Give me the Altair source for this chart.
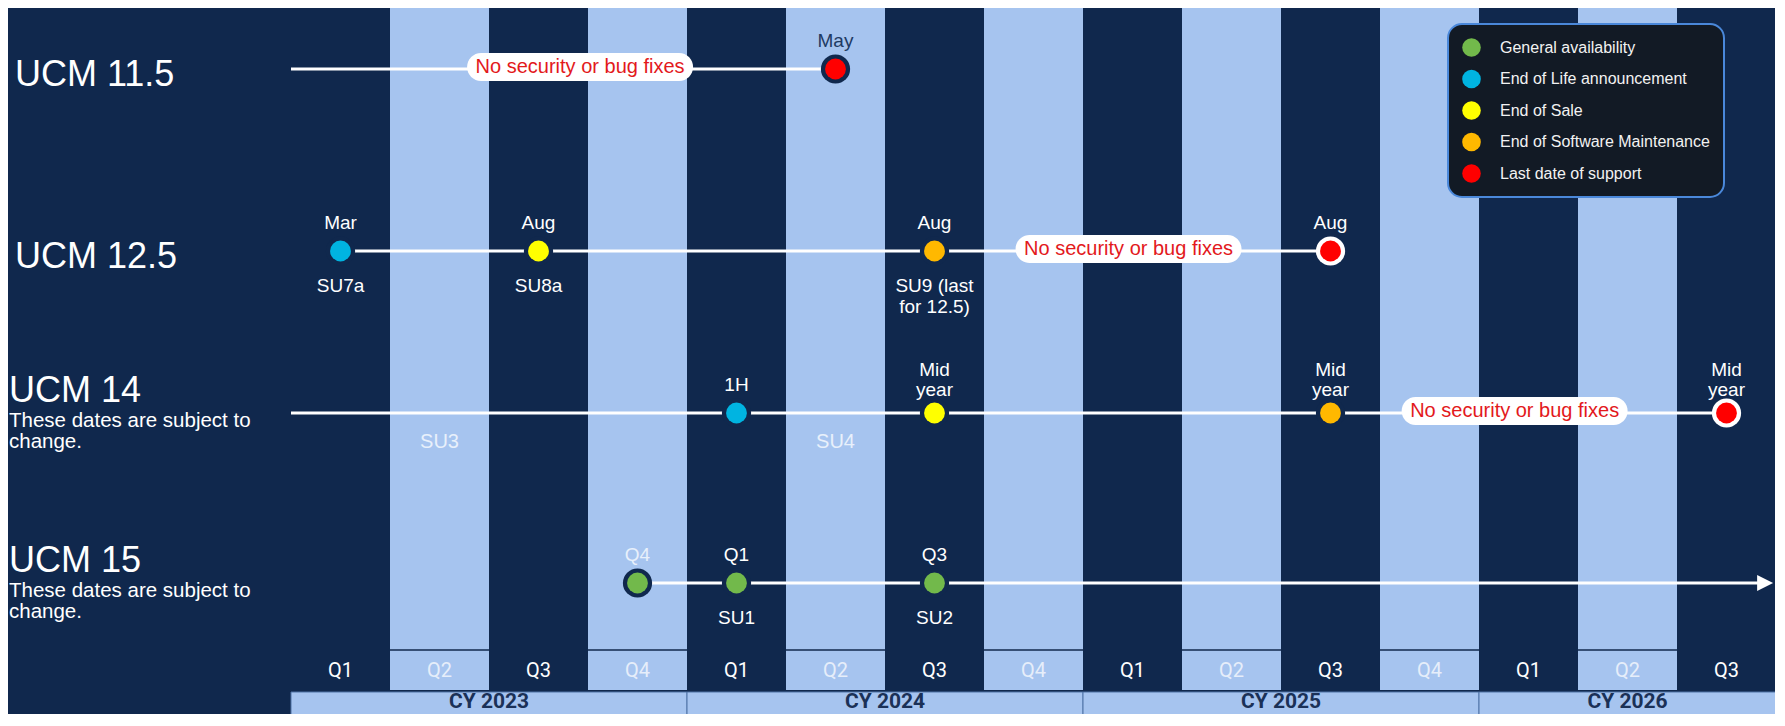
import altair as alt
import pandas as pd

# ---------------- data ----------------
quarters = ["Q1", "Q2", "Q3", "Q4", "Q1", "Q2", "Q3", "Q4",
            "Q1", "Q2", "Q3", "Q4", "Q1", "Q2", "Q3"]
years = ["CY 2023", "CY 2024", "CY 2025", "CY 2026"]
quarters_per_year = [4, 4, 4, 3]

products = ["UCM 11.5", "UCM 12.5", "UCM 14", "UCM 15"]
product_notes = ["", "", "These dates are subject to\nchange.", "These dates are subject to\nchange."]
line_start = [0, 0.5, 0, 3.5]          # in quarters from Q1 2023
line_end = [5.5, 10.5, 14.5, 14.89]
ongoing = [False, False, False, True]

nofix_product = ["UCM 11.5", "UCM 12.5", "UCM 14"]
nofix_at = [2.92, 8.46, 12.36]
nofix_text = "No security or bug fixes"

types = ["General availability", "End of Life announcement", "End of Sale",
         "End of Software Maintenance", "Last date of support"]
type_colors = ["#72B94B", "#00B4E1", "#FFFF00", "#FFB800", "#FF0000"]

ms_product = ["UCM 11.5", "UCM 12.5", "UCM 12.5", "UCM 12.5", "UCM 12.5",
              "UCM 14", "UCM 14", "UCM 14", "UCM 14",
              "UCM 15", "UCM 15", "UCM 15"]
ms_quarter = [5, 0, 2, 6, 10, 4, 6, 10, 14, 3, 4, 6]
ms_type = ["Last date of support", "End of Life announcement", "End of Sale",
           "End of Software Maintenance", "Last date of support",
           "End of Life announcement", "End of Sale", "End of Software Maintenance",
           "Last date of support",
           "General availability", "General availability", "General availability"]
ms_above = ["May", "Mar", "Aug", "Aug", "Aug", "1H", "Mid\nyear", "Mid\nyear", "Mid\nyear",
            "Q4", "Q1", "Q3"]
ms_below = ["", "SU7a", "SU8a", "SU9 (last\nfor 12.5)", "", "", "", "", "", "", "SU1", "SU2"]

su_product = ["UCM 14", "UCM 14"]
su_quarter = [1, 5]
su_label = ["SU3", "SU4"]

# ---------------- tables ----------------
NAVY = "#10284D"
LIGHT = "#A6C4EF"
FONT = "Liberation Sans"

qdf = pd.DataFrame({"idx": list(range(len(quarters))), "label": quarters})
qdf["idx_end"] = qdf["idx"] + 1
qdf["xc"] = qdf["idx"] + 0.5

ends = pd.Series(quarters_per_year).cumsum()
ydf = pd.DataFrame({"year": years, "end": ends, "start": ends - pd.Series(quarters_per_year)})
ydf["xc"] = (ydf["start"] + ydf["end"]) / 2

pdf = pd.DataFrame({"product": products, "note": product_notes,
                    "start": line_start, "end": line_end, "ongoing": ongoing})
pdf["row"] = range(len(products))

nf = pd.DataFrame({"product": nofix_product, "x": nofix_at, "text": nofix_text})
nf["row"] = nf["product"].map(products.index)

mdf = pd.DataFrame({"product": ms_product, "q": ms_quarter, "type": ms_type,
                    "above": ms_above, "below": ms_below})
mdf["row"] = mdf["product"].map(products.index)
mdf["x"] = mdf["q"] + 0.5

sdf = pd.DataFrame({"product": su_product, "q": su_quarter, "label": su_label})
sdf["row"] = sdf["product"].map(products.index)
sdf["x"] = sdf["q"] + 0.5

# ---------------- scales ----------------
XS = alt.Scale(domain=[0, 15], range=[283, 1768], nice=False, zero=False)
YS = alt.Scale(domain=[0, 1, 2, 3], range=[61, 243, 405, 575], nice=False, zero=False)

def X(f):
    return alt.X(f, type="quantitative", scale=XS, axis=None)

def Y(f):
    return alt.Y(f, type="quantitative", scale=YS, axis=None)

# ---------------- layers ----------------
bands = alt.Chart(qdf).transform_filter("datum.idx % 2 == 1").mark_rect(color=LIGHT).encode(
    x=X("idx"), x2="idx_end", y=alt.value(0), y2=alt.value(682))

band_sep = alt.Chart(qdf).transform_filter("datum.idx % 2 == 1").mark_rule(
    color=NAVY, strokeWidth=1.5).encode(x=X("idx"), x2="idx_end", y=alt.value(642))

qlabels = alt.Chart(qdf).transform_calculate(
    tc="datum.idx % 2 == 1 ? '#E6EEFA' : '#FFFFFF'"
).mark_text(font="Roboto", fontSize=20, baseline="middle").encode(
    x=X("xc"), y=alt.value(663), text="label:N", color=alt.Color("tc:N", scale=None))

cy_rect = alt.Chart(ydf).mark_rect(color=LIGHT, stroke="#4F72A6", strokeWidth=1).encode(
    x=X("start"), x2="end", y=alt.value(684), y2=alt.value(720))

cy_text = alt.Chart(ydf).mark_text(font="Roboto", fontSize=21, fontWeight="bold",
                                   color="#1B3157", baseline="middle").encode(
    x=X("xc"), y=alt.value(694), text="year:N")

names_plain = alt.Chart(pdf).transform_filter("datum.note == ''").mark_text(
    font=FONT, fontSize=36, color="white", align="left", baseline="alphabetic", dy=17).encode(
    x=alt.value(7), y=Y("row"), text="product:N")

names_note = alt.Chart(pdf).transform_filter("datum.note != ''").mark_text(
    font=FONT, fontSize=36, color="white", align="left", baseline="alphabetic", dy=-11).encode(
    x=alt.value(1), y=Y("row"), text="product:N")

notes = alt.Chart(pdf).transform_filter("datum.note != ''").mark_text(
    font=FONT, fontSize=20.5, color="white", align="left", baseline="top", dy=-2,
    lineBreak="\n", lineHeight=21).encode(
    x=alt.value(1), y=Y("row"), text="note:N")

lines = alt.Chart(pdf).mark_rule(color="white", strokeWidth=3).encode(
    x=X("start"), x2="end", y=Y("row"))

arrow = alt.Chart(pdf).transform_filter("datum.ongoing").mark_point(
    shape="M-1,-1L1,0L-1,1Z", filled=True, color="white", opacity=1, size=256, strokeWidth=0).encode(
    x=X("end"), y=Y("row"))

PILL = "M-0.876,-0.142L0.876,-0.142A0.124,0.124 0 0 1 0.876,0.106L-0.876,0.106A0.124,0.124 0 0 1 -0.876,-0.142Z"
pills = alt.Chart(nf).mark_point(shape=PILL, filled=True, color="white", opacity=1,
                                 size=51076, strokeWidth=0).encode(x=X("x"), y=Y("row"))
pill_text = alt.Chart(nf).mark_text(font=FONT, fontSize=20, color="#E3191C",
                                    baseline="middle", dy=-2).encode(
    x=X("x"), y=Y("row"), text="text:N")

halos = alt.Chart(mdf).transform_calculate(
    halo=f"(datum.type == 'Last date of support' && datum.q % 2 == 0) ? '#FFFFFF' : '{NAVY}'"
).mark_point(filled=True, opacity=1, size=855, strokeWidth=0).encode(
    x=X("x"), y=Y("row"), fill=alt.Fill("halo:N", scale=None))

markers = alt.Chart(mdf).mark_point(filled=True, opacity=1, size=434, strokeWidth=0).encode(
    x=X("x"), y=Y("row"),
    color=alt.Color("type:N", scale=alt.Scale(domain=types, range=type_colors),
                    legend=alt.Legend(title=None, orient="none", legendX=1440, legendY=16,
                                      symbolType="circle", symbolSize=346, symbolStrokeWidth=0,
                                      symbolOpacity=1, labelFont=FONT, labelFontSize=16,
                                      labelColor="#F2F2F2", labelOffset=19, rowPadding=12.5,
                                      padding=14, fillColor="#121A25", strokeColor="#4A88DA",
                                      cornerRadius=14, labelLimit=400)))

ACOL = "(datum.q % 2 == 1) ? (datum.type == 'Last date of support' ? '#1E3A63' : '#E8F0FB') : '#FFFFFF'"
above_single = alt.Chart(mdf).transform_filter("indexof(datum.above, '\\n') < 0").transform_calculate(
    ac=ACOL
).mark_text(font=FONT, fontSize=19, baseline="bottom", dy=-18).encode(
    x=X("x"), y=Y("row"), text="above:N", color=alt.Color("ac:N", scale=None))

above_multi = alt.Chart(mdf).transform_filter("indexof(datum.above, '\\n') >= 0").transform_calculate(
    ac=ACOL
).mark_text(font=FONT, fontSize=19, baseline="top", dy=-52, lineBreak="\n", lineHeight=20).encode(
    x=X("x"), y=Y("row"), text="above:N", color=alt.Color("ac:N", scale=None))

below = alt.Chart(mdf).mark_text(font=FONT, fontSize=19, baseline="top", dy=26, color="white",
                                 lineBreak="\n", lineHeight=21).encode(
    x=X("x"), y=Y("row"), text="below:N")

su_text = alt.Chart(sdf).mark_text(font=FONT, fontSize=20, baseline="alphabetic", dy=35,
                                   color="#E8F0FB").encode(
    x=X("x"), y=Y("row"), text="label:N")

chart = alt.layer(
    bands, band_sep, cy_rect, qlabels, cy_text,
    names_plain, names_note, notes,
    lines, arrow, pills, pill_text, halos, markers,
    above_single, above_multi, below, su_text
).properties(
    width=1767, height=706, padding=0, autosize=alt.AutoSizeParams(type="none")
).configure(background=NAVY).configure_view(stroke=None)

# thicker legend border if the schema accepts it
try:
    styled = chart.configure_legend(strokeWidth=2)
    styled.to_dict()
    chart = styled
except Exception:
    pass

chart.save("out.html", embed_options={"renderer": "svg", "actions": False})
